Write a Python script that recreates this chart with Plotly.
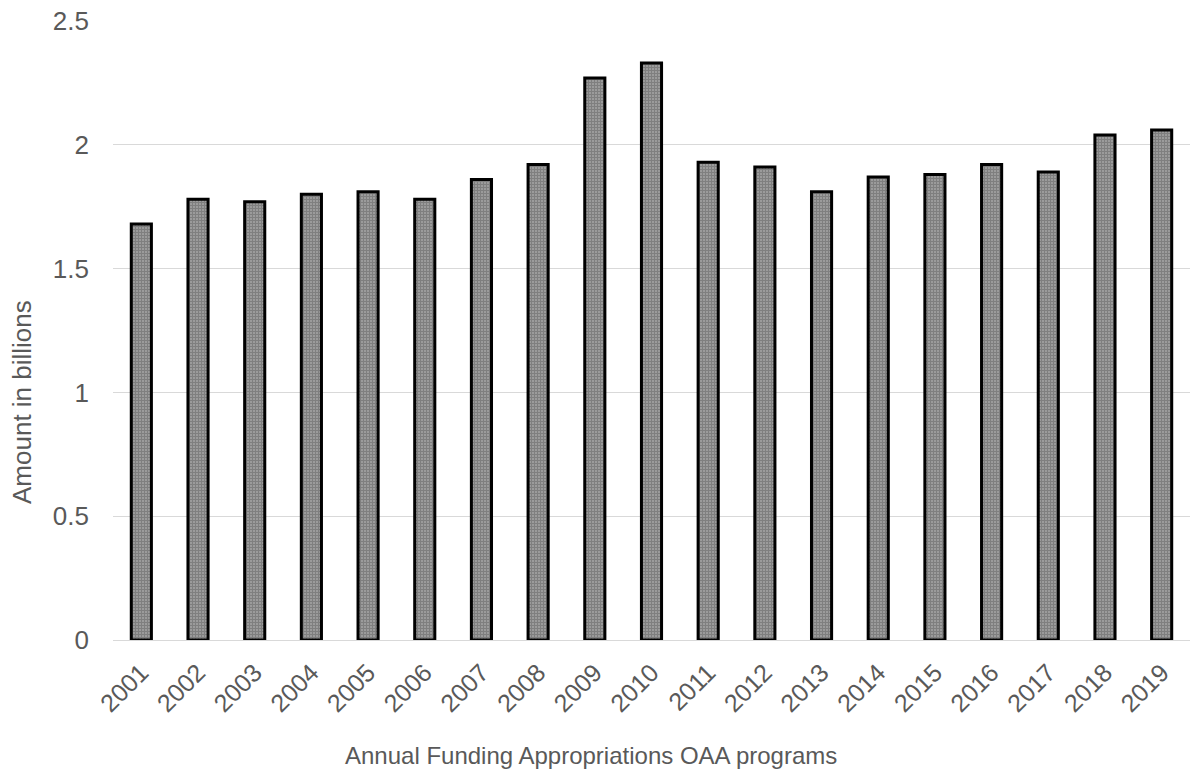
import plotly.graph_objects as go

years = [str(y) for y in range(2001, 2020)]
amounts = [1.68, 1.78, 1.77, 1.80, 1.81, 1.78, 1.86, 1.92, 2.27, 2.33,
           1.93, 1.91, 1.81, 1.87, 1.88, 1.92, 1.89, 2.04, 2.06]
y_ticks = [0, 0.5, 1, 1.5, 2, 2.5]
y_tick_labels = ["0", "0.5", "1", "1.5", "2", "2.5"]
x_title = "Annual Funding Appropriations OAA programs"
y_title = "Amount in billions"

FONT = "Liberation Sans, Arial, sans-serif"
GRAY = "#595959"

fig = go.Figure(go.Bar(
    x=years, y=amounts,
    marker=dict(
        color="white",
        line=dict(color="black", width=3),
        pattern=dict(shape=".", fgcolor="black", bgcolor="white", size=3, solidity=0.82),
    ),
))

fig.update_layout(
    width=1194, height=771,
    margin=dict(l=113, r=4, t=21, b=131),
    paper_bgcolor="white", plot_bgcolor="white",
    bargap=0.645,
    showlegend=False,
    font=dict(family=FONT, size=25, color=GRAY),
    xaxis=dict(
        tickangle=-45, showgrid=False, showline=False, ticks="",
        ticklabelstandoff=12,
        tickfont=dict(size=25, color=GRAY),
    ),
    yaxis=dict(
        range=[0, 2.5], tickvals=y_ticks, ticktext=y_tick_labels,
        showgrid=True, gridcolor="#d9d9d9", gridwidth=1.3,
        zeroline=True, zerolinecolor="#d9d9d9", zerolinewidth=1.3,
        showline=False, ticks="", ticklabelstandoff=23,
        tickfont=dict(size=26, color=GRAY),
    ),
    annotations=[
        dict(text=x_title, xref="paper", yref="paper", x=0.4438, y=-0.1858,
             xanchor="center", yanchor="middle", showarrow=False,
             font=dict(family=FONT, size=24, color=GRAY)),
        dict(text=y_title, xref="paper", yref="paper", x=-0.0845, y=0.3845,
             xanchor="center", yanchor="middle", showarrow=False, textangle=-90,
             font=dict(family=FONT, size=26, color=GRAY)),
    ],
)

fig.write_html("out.html")
